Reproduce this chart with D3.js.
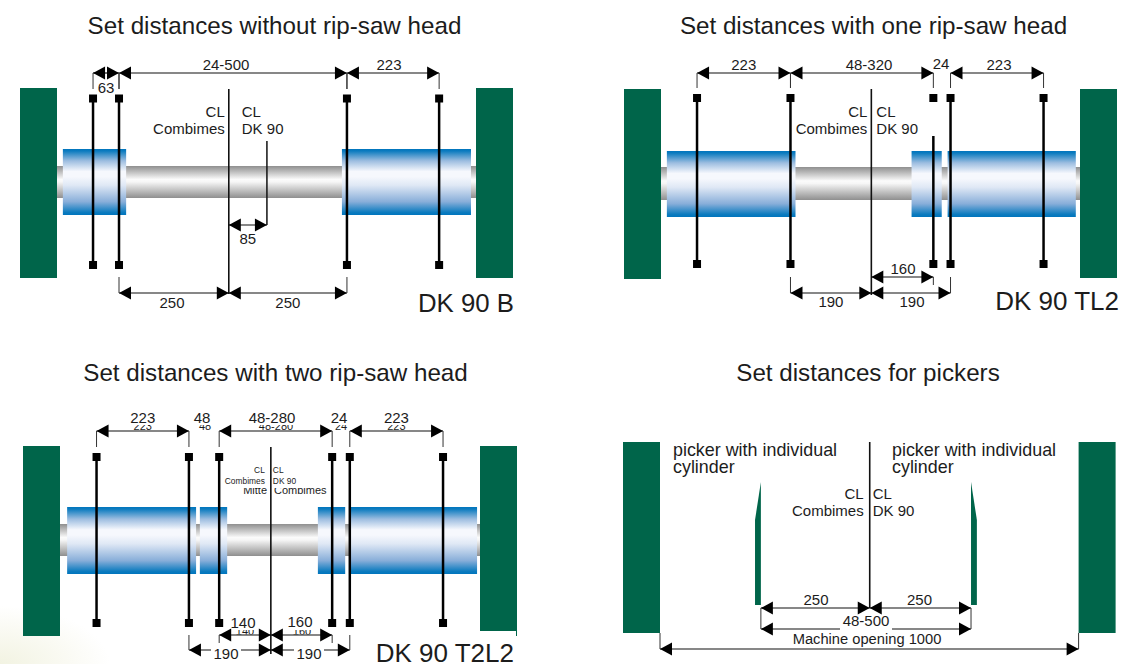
<!DOCTYPE html>
<html><head><meta charset="utf-8">
<script src="https://cdn.jsdelivr.net/npm/d3@7"></script>
<style>html,body{margin:0;background:#fff}svg{display:block}text{font-family:"Liberation Sans",Arial,sans-serif;fill:#1c1c1c}</style>
</head><body><svg id="c" width="1121" height="664"></svg>
<script>
// ---- values (mm along the machine opening, 0..1000) ----
const p1Blades=[86,148,692,912], p1Rolls=[[14,165],[680,988]], p1Centre=410, p1Dk90=501;
const p2Blades=[86,309,650,691,913], p2Rolls=[[14,321],[598,670],[684,990]], p2Centre=502;
const p3Blades=[87,307,379,648,690,912], p3Rolls=[[17,324],[333,398],[614,679],[688,993]], p3Centre=502;
const p4Centre=501, p4Pickers=[241,743], p4PickerWidth=14;
const titles=["Set distances without rip-saw head","Set distances with one rip-saw head","Set distances with two rip-saw head","Set distances for pickers"];
const models=["DK 90 B","DK 90 TL2","DK 90 T2L2"];
const labelsCL=["CL","Combimes","CL","DK 90"];
const pickerLabels=["picker with individual","cylinder"];
const dimLabels1=["63","24-500","223","250","250","85"];
const dimLabels2=["223","48-320","24","223","160","190","190"];
const dimLabels3=["223","48","48-280","24","223","140","160","190","190"];
const dimLabels4=["250","250","48-500","Machine opening 1000"];

const svg=d3.select("#c"), defs=svg.append("defs");
function grad(id,stops){const g=defs.append("linearGradient").attr("id",id).attr("x1",0).attr("x2",0).attr("y1",0).attr("y2",1);
  stops.forEach(s=>g.append("stop").attr("offset",s[0]).attr("stop-color",s[1]));}
grad("roll",[[0,"#0075bd"],[.03,"#0b7bbf"],[.18,"#9dbde0"],[.34,"#f6f8fd"],[.42,"#f6f8fd"],[.55,"#dfe8f5"],[.8,"#88aed9"],[.96,"#0b7bbf"],[1,"#0075bd"]]);
grad("rod",[[0,"#8f8f8f"],[.42,"#fbfbfb"],[.5,"#f6f6f6"],[1,"#8f8f8f"]]);
const rg=defs.append("radialGradient").attr("id","tint").attr("cx",0).attr("cy",1).attr("r",1);
rg.append("stop").attr("offset",0).attr("stop-color","#f2f3e2");
rg.append("stop").attr("offset",.6).attr("stop-color","#fafaf3");
rg.append("stop").attr("offset",1).attr("stop-color","#ffffff");
svg.append("rect").attr("x",0).attr("y",606).attr("width",110).attr("height",58).attr("fill","url(#tint)");

const GREEN="#00654a", INK="#000";
function panel(o){
  const g=svg.append("g");
  const x=d3.scaleLinear().domain([0,1000]).range([o.left,o.right]);
  g.x=x; g.o=o;
  const w=o.postW;
  g.append("rect").attr("x",o.left-w).attr("y",o.postTop).attr("width",w).attr("height",o.postBot-o.postTop).attr("fill",GREEN);
  g.append("rect").attr("x",o.right).attr("y",o.postTop).attr("width",w).attr("height",(o.postBotR||o.postBot)-o.postTop).attr("fill",GREEN);
  return g;
}
function shaft(g,rolls){const o=g.o,x=g.x;
  g.append("rect").attr("x",x(0)).attr("y",o.rodTop).attr("width",x(1000)-x(0)).attr("height",o.rodBot-o.rodTop).attr("fill","url(#rod)");
  g.selectAll(".roll").data(rolls).join("rect").attr("class","roll").attr("x",d=>x(d[0])).attr("y",o.rollTop).attr("width",d=>x(d[1])-x(d[0])).attr("height",o.rollBot-o.rollTop).attr("fill","url(#roll)");
}
function blades(g,vals,cut){const o=g.o,x=g.x;
  g.selectAll(".bl").data(vals).join("line").attr("class","bl").attr("x1",x).attr("x2",x)
    .attr("y1",(d,i)=>i===cut?o.cutFrom:o.sqTop).attr("y2",o.sqBot).attr("stroke",INK).attr("stroke-width",2.5);
  vals.forEach(v=>[o.sqTop,o.sqBot].forEach(y=>g.append("rect").attr("x",x(v)-4).attr("y",y-4).attr("width",8).attr("height",8).attr("fill",INK)));
}
function centre(g,v,y0,y1){g.append("line").attr("x1",g.x(v)).attr("x2",g.x(v)).attr("y1",y0).attr("y2",y1).attr("stroke","#111").attr("stroke-width",1.6);}
function txt(g,x,y,s,size,anchor){return g.append("text").attr("x",x).attr("y",y).attr("font-size",size).attr("text-anchor",anchor||"middle").text(s);}
function arrow(g,tip,y,dir){
  g.append("path").attr("d",d3.line()([[tip,y],[tip+dir*12,y-6.5],[tip+dir*12,y+6.5]])+"Z").attr("fill",INK);
}
function dim(g,a,b,y,opt={}){
  const xa=g.x(a),xb=g.x(b);
  g.append("line").attr("x1",xa).attr("x2",xb).attr("y1",y).attr("y2",y).attr("stroke","#111").attr("stroke-width",1.2);
  arrow(g,xa,y,1);arrow(g,xb,y,-1);
  if(opt.ext!==undefined)[xa,xb].forEach((X,i)=>{const e=Array.isArray(opt.ext)?opt.ext[i]:opt.ext;if(e===null)return;
    g.append("line").attr("x1",X).attr("x2",X).attr("y1",y).attr("y2",e).attr("stroke","#333").attr("stroke-width",1);});
  if(opt.label){const lx=opt.lx!==undefined?opt.lx:(xa+xb)/2;
    if(opt.bg)g.append("rect").attr("x",lx-opt.bg/2).attr("y",opt.ly-11).attr("width",opt.bg).attr("height",15).attr("fill","#fff");
    txt(g,lx,opt.ly,opt.label,opt.size||15);}
}
function clLabels(g,cx,gapL,gapR,y0,y1,size){
  txt(g,cx-gapL,y0,labelsCL[0],size,"end");txt(g,cx-gapL,y1,labelsCL[1],size,"end");
  txt(g,cx+gapR,y0,labelsCL[2],size,"start");txt(g,cx+gapR,y1,labelsCL[3],size,"start");
}

// ---- Panel 1
{const g=panel({left:57,right:476,postW:37,postTop:88,postBot:278,rodTop:166,rodBot:198,rollTop:149,rollBot:215,sqTop:98.5,sqBot:265});
 txt(g,274.5,34,titles[0],24.2);
 shaft(g,p1Rolls);blades(g,p1Blades);centre(g,p1Centre,89,294);
 const x=g.x;
 clLabels(g,x(p1Centre),4,13,117,134,15);
 g.append("line").attr("x1",x(p1Dk90)).attr("x2",x(p1Dk90)).attr("y1",141).attr("y2",225).attr("stroke","#111").attr("stroke-width",1.5);
 dim(g,p1Blades[0],p1Blades[1],73,{ext:[89,89]});
 txt(g,106,93,dimLabels1[0],15);
 dim(g,p1Blades[1],p1Blades[2],73,{ext:[89,89],label:dimLabels1[1],lx:226,ly:70});
 dim(g,p1Blades[2],p1Blades[3],73,{ext:[89,89],label:dimLabels1[2],lx:389,ly:70});
 dim(g,p1Blades[1],p1Centre,293,{ext:[277,null],label:dimLabels1[3],lx:172,ly:308});
 dim(g,p1Centre,p1Blades[2],293,{ext:[null,277],label:dimLabels1[4],ly:308});
 dim(g,p1Centre,p1Dk90,225,{label:dimLabels1[5],ly:244});
 txt(g,514,312,models[0],25.8,"end");
}
// ---- Panel 2
{const g=panel({left:661,right:1080,postW:37,postTop:89,postBot:279,postBotR:278,rodTop:167,rodBot:200,rollTop:151,rollBot:217,sqTop:98,sqBot:264,cutFrom:136});
 txt(g,873.5,34,titles[1],24.2);
 shaft(g,p2Rolls);blades(g,p2Blades,2);centre(g,p2Centre,89,295);
 const x=g.x,b=p2Blades;
 clLabels(g,x(p2Centre),4,5,117,134,15);
 dim(g,b[0],b[1],73,{ext:[88,88],label:dimLabels2[0],ly:70});
 dim(g,b[1],b[2],73,{ext:[88,88],label:dimLabels2[1],lx:869,ly:70});
 txt(g,941,69,dimLabels2[2],15);
 dim(g,b[3],b[4],73,{ext:[88,88],label:dimLabels2[3],lx:999,ly:70});
 dim(g,p2Centre,b[2],277,{ext:[null,285],label:dimLabels2[4],lx:903,ly:274});
 dim(g,b[1],p2Centre,293,{ext:[277,null],label:dimLabels2[5],ly:307});
 dim(g,p2Centre,b[3],293,{ext:[null,277],label:dimLabels2[6],lx:912,ly:307});
 txt(g,1119,310,models[1],26,"end");
}
// ---- Panel 3
{const g=panel({left:60,right:480,postW:37,postTop:446,postBot:636,postBotR:631,rodTop:524,rodBot:556,rollTop:507,rollBot:574,sqTop:457,sqBot:623});
 const x=g.x,b=p3Blades;
 g.append("line").attr("x1",516.5).attr("x2",516.5).attr("y1",631).attr("y2",636).attr("stroke",GREEN).attr("stroke-width",1);
 txt(g,275.5,381,titles[2],24.2);
 // partly hidden smaller labels left behind the larger ones
 defs.append("clipPath").attr("id","cutTop").append("rect").attr("x",80).attr("y",425).attr("width",400).attr("height",6);
 defs.append("clipPath").attr("id","cutBot").append("rect").attr("x",200).attr("y",630).attr("width",130).attr("height",4.5);
 defs.append("clipPath").attr("id","cutMid").append("rect").attr("x",200).attr("y",488).attr("width",160).attr("height",8);
 const hiddenTop=g.append("g").attr("clip-path","url(#cutTop)"),hiddenBot=g.append("g").attr("clip-path","url(#cutBot)"),hiddenMid=g.append("g").attr("clip-path","url(#cutMid)");
 txt(hiddenTop,(x(b[0])+x(b[1]))/2,430,dimLabels3[0],11);
 txt(hiddenTop,205,430,dimLabels3[1],11);
 txt(hiddenTop,276,430,dimLabels3[2],11);
 txt(hiddenTop,341,430,dimLabels3[3],11);
 txt(hiddenTop,(x(b[4])+x(b[5]))/2,430,dimLabels3[4],11);
 txt(hiddenBot,245,635,dimLabels3[5],11);
 txt(hiddenBot,302,635,dimLabels3[6],11);
 txt(hiddenMid,267,494,"Mitte",11,"end");
 txt(hiddenMid,274,494,labelsCL[1],11,"start");
 shaft(g,p3Rolls);blades(g,b);centre(g,p3Centre,447,654);
 clLabels(g,x(p3Centre),6,2,473,484,8.4);
 dim(g,b[0],b[1],431,{ext:[447,447],label:dimLabels3[0],ly:423,size:15});
 txt(g,202,423,dimLabels3[1],15);
 dim(g,b[2],b[3],431,{ext:[447,447],label:dimLabels3[2],lx:272,ly:423,size:15});
 txt(g,339,423,dimLabels3[3],15);
 dim(g,b[4],b[5],431,{ext:[447,447],label:dimLabels3[4],ly:423,size:15});
 dim(g,b[2],p3Centre,635,{label:dimLabels3[5],lx:243,ly:628,size:15});
 g.append("line").attr("x1",x(b[2])).attr("x2",x(b[2])).attr("y1",635).attr("y2",643).attr("stroke","#333");
 dim(g,p3Centre,b[3],635,{label:dimLabels3[6],lx:300,ly:627,size:15});
 g.append("line").attr("x1",x(b[3])).attr("x2",x(b[3])).attr("y1",635).attr("y2",643).attr("stroke","#333");
 dim(g,b[1],p3Centre,650,{ext:[635,null],label:dimLabels3[7],lx:226,ly:659,size:15,bg:30});
 dim(g,p3Centre,b[4],650,{ext:[null,635],label:dimLabels3[8],lx:309,ly:659,size:15,bg:30});
 txt(g,514,662,models[2],26,"end");
}
// ---- Panel 4
{const g=panel({left:660,right:1078.6,postW:37,postTop:442,postBot:633});
 const x=g.x,[pl,pr]=p4Pickers,pw=p4PickerWidth;
 txt(g,868,381,titles[3],24.2);
 centre(g,p4Centre,442,608);
 g.append("path").attr("fill",GREEN).attr("d",d3.line()([[x(pl),482],[x(pl),605],[x(pl-pw),605],[x(pl-pw),520]])+"Z");
 g.append("path").attr("fill",GREEN).attr("d",d3.line()([[x(pr),482],[x(pr),605],[x(pr+pw),605],[x(pr+pw),520]])+"Z");
 [673,892].forEach(X=>{txt(g,X,456,pickerLabels[0],17.9,"start");txt(g,X,473,pickerLabels[1],17.9,"start");});
 clLabels(g,x(p4Centre),6,3,499,516,15);
 dim(g,pl,p4Centre,608,{label:dimLabels4[0],lx:816,ly:605});
 dim(g,p4Centre,pr,608,{label:dimLabels4[1],lx:919.5,ly:605});
 dim(g,pl,pr,629,{ext:[608,608],label:dimLabels4[2],lx:866,ly:626,bg:52});
 dim(g,0,1000,649,{ext:[633,633],label:dimLabels4[3],lx:867,ly:644,size:14.7});
}
</script></body></html>
